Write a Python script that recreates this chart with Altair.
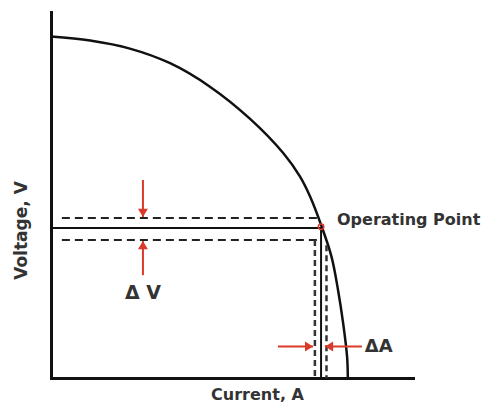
import altair as alt
import pandas as pd

# I-V curve (arbitrary units: current 0-100, voltage 0-100)
curve_current = [0.0, 10.8, 21.8, 32.9, 43.9, 55.0, 64.2, 68.8, 71.6, 74.8,
                 77.5, 79.3, 80.7, 81.8, 82.0]
curve_voltage = [93.3, 92.2, 90.0, 86.0, 79.6, 70.8, 61.4, 55.0, 49.5, 41.3,
                 33.1, 24.0, 15.0, 5.7, 0.0]

# operating point and its tolerance band
op_current = 74.6
op_voltage = 41.0
v_upper, v_lower = 43.7, 37.7
a_left, a_right = 72.9, 76.1
dash_start = 3.0

# arrows: tail -> tip
arrow_x = [25.4, 25.4, 62.7, 85.9]
arrow_y = [54.1, 28.1, 8.6, 8.6]
arrow_x2 = [25.4, 25.4, 72.4, 75.7]
arrow_y2 = [44.0, 37.4, 8.6, 8.6]
arrow_shape = [
    "M0,0 L-0.55,-0.9 L0.55,-0.9 Z",
    "M0,0 L-0.55,0.9 L0.55,0.9 Z",
    "M0,0 L-0.9,-0.55 L-0.9,0.55 Z",
    "M0,0 L0.9,-0.55 L0.9,0.55 Z",
]

label_text = ["Δ V", "ΔA", "Operating Point"]
label_x = [25.4, 86.7, 79.0]
label_y = [23.2, 8.6, 43.2]
label_align = ["center", "left", "left"]
label_size = [19, 18, 16]

RED = "#d93a2b"
INK = "#111111"
TXT = "#333333"

xs = alt.Scale(domain=[0, 100], nice=False, zero=False)
ys = alt.Scale(domain=[0, 100], nice=False, zero=False)

xaxis = alt.Axis(
    title="Current, A", ticks=False, labels=False, grid=False,
    domainWidth=3, domainColor=INK, domainCap="square",
    titleFont="DejaVu Sans", titleFontWeight="bold", titleFontSize=16,
    titleColor=TXT, titleX=206, titleY=16, titleBaseline="middle", titleAlign="center",
)
yaxis = alt.Axis(
    title="Voltage, V", ticks=False, labels=False, grid=False,
    domainWidth=3, domainColor=INK, domainCap="square",
    titleFont="DejaVu Sans", titleFontWeight="bold", titleFontSize=17,
    titleColor=TXT, titleX=-30, titleY=218, titleAngle=270,
    titleBaseline="middle", titleAlign="center",
)

curve_df = pd.DataFrame({
    "cur": curve_current, "volt": curve_voltage,
    "idx": list(range(len(curve_current))),
})
curve = alt.Chart(curve_df).mark_line(
    color=INK, strokeWidth=2.5, interpolate="catmull-rom"
).encode(
    x=alt.X("cur:Q", scale=xs, axis=xaxis),
    y=alt.Y("volt:Q", scale=ys, axis=yaxis),
    order="idx:Q",
)

solid_df = pd.DataFrame({
    "x": [0.0, op_current], "x2": [op_current, op_current],
    "y": [op_voltage, op_voltage], "y2": [op_voltage, 0.0],
})
solid = alt.Chart(solid_df).mark_rule(color=INK, strokeWidth=2).encode(
    x=alt.X("x:Q", scale=xs), x2="x2", y=alt.Y("y:Q", scale=ys), y2="y2"
)

hdash_df = pd.DataFrame({
    "x": [dash_start, dash_start], "x2": [73.8, 74.3],
    "y": [v_upper, v_lower],
})
hdash = alt.Chart(hdash_df).mark_rule(
    color="#222222", strokeWidth=2, strokeDash=[8, 5]
).encode(x=alt.X("x:Q", scale=xs), x2="x2", y=alt.Y("y:Q", scale=ys))

vdash_df = pd.DataFrame({
    "x": [a_left, a_right], "y": [v_lower, 36.3], "y2": [0.0, 0.0],
})
vdash = alt.Chart(vdash_df).mark_rule(
    color="#333333", strokeWidth=2.5, strokeDash=[6, 4]
).encode(x=alt.X("x:Q", scale=xs), y=alt.Y("y:Q", scale=ys), y2="y2")

arrow_df = pd.DataFrame({
    "x": arrow_x, "y": arrow_y, "x2": arrow_x2, "y2": arrow_y2, "shape": arrow_shape,
})
shafts = alt.Chart(arrow_df).mark_rule(color=RED, strokeWidth=2).encode(
    x=alt.X("x:Q", scale=xs), y=alt.Y("y:Q", scale=ys), x2="x2", y2="y2"
)
heads = alt.Chart(arrow_df).mark_point(
    filled=True, color=RED, size=324, opacity=1
).encode(
    x=alt.X("x2:Q", scale=xs), y=alt.Y("y2:Q", scale=ys),
    shape=alt.Shape("shape:N", scale=None),
)

op_df = pd.DataFrame({"x": [op_current], "y": [41.3]})
op = alt.Chart(op_df).mark_point(
    color=RED, size=30, strokeWidth=1.5, filled=False, opacity=1
).encode(x=alt.X("x:Q", scale=xs), y=alt.Y("y:Q", scale=ys))

label_df = pd.DataFrame({
    "text": label_text, "x": label_x, "y": label_y,
    "align": label_align, "size": label_size,
})
labels = []
for i in range(len(label_text)):
    labels.append(
        alt.Chart(label_df.iloc[[i]]).mark_text(
            font="DejaVu Sans", fontWeight="bold", color=TXT,
            align=label_align[i], baseline="middle", fontSize=label_size[i],
        ).encode(x=alt.X("x:Q", scale=xs), y=alt.Y("y:Q", scale=ys), text="text:N")
    )

chart = alt.layer(curve, solid, hdash, vdash, shafts, heads, op, *labels).properties(
    width=362, height=366,
    autosize=alt.AutoSizeParams(type="none"),
    padding={"left": 43, "top": 4, "right": 72, "bottom": 27},
    background="white",
).configure_view(stroke="transparent")

chart.save("out.html", embed_options={"renderer": "svg", "actions": False})
